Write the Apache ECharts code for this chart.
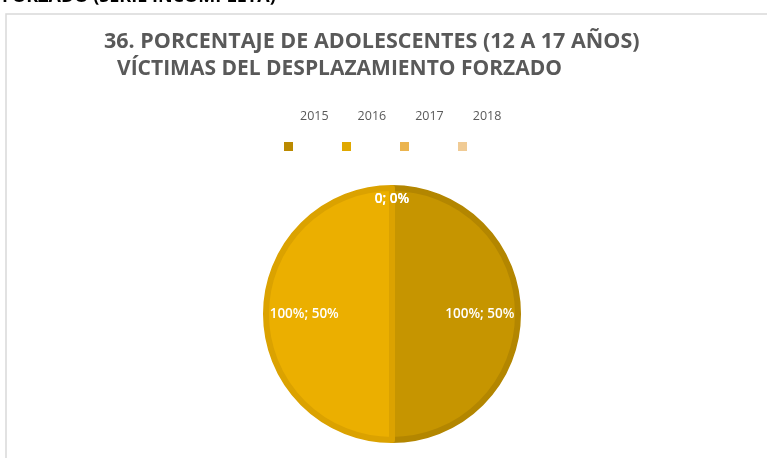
<!DOCTYPE html>
<html>
<head>
<meta charset="utf-8">
<script src="https://cdn.jsdelivr.net/npm/echarts@6/dist/echarts.min.js"></script>
<style>
  html, body { margin: 0; padding: 0; background: #fff; }
  #viewData { width: 767px; height: 458px; }
</style>
</head>
<body>
<div id="viewData"></div>
<script>
// datos del gráfico
var years = ["2015", "2016", "2017", "2018"];
var valores = [100, 100, 0, 0]; // porcentaje de víctimas
var colores = ["#C69500", "#EBAF00", "#EBB44F", "#F0CB95"];
var bordes = ["#B38600", "#DBA200", "#DDA040", "#E0B880"];
var leyenda = ["#BB8A00", "#E0A800", "#EBB44F", "#F0CB95"];

var myChart = echarts.init(document.getElementById("viewData"));

var option = {
  animation: false,
  graphic: [
    {
      type: "rect",
      shape: { x: 6, y: 14, width: 800, height: 500 },
      style: { fill: "#fff", stroke: "#D9D9D9", lineWidth: 1.5 },
      z: -10
    },
    {
      type: "text",
      left: 2, top: -12,
      style: { text: "FORZADO (SERIE INCOMPLETA)", font: "bold 18px 'Open Sans'", fill: "#000" }
    },
    {
      type: "text",
      left: 104, top: 31,
      style: { text: "36. PORCENTAJE DE ADOLESCENTES (12 A 17 AÑOS)", font: "bold 21.5px 'Open Sans'", fill: "#595959" }
    },
    {
      type: "text",
      left: 117, top: 59,
      style: { text: "VÍCTIMAS DEL DESPLAZAMIENTO FORZADO", font: "bold 21px 'Open Sans'", fill: "#595959" }
    }
  ],
  legend: [
    {
      // cuadritos
      left: 279, top: 137,
      itemWidth: 9, itemHeight: 9,
      itemGap: 49,
      icon: "rect",
      data: years.map(function (y, i) {
        return { name: y, itemStyle: { color: leyenda[i], borderWidth: 0 } };
      }),
      formatter: function () { return ""; },
      selectedMode: false
    },
    {
      // textos de años
      left: 290, top: 105,
      itemWidth: 0, itemHeight: 0,
      itemGap: 24,
      icon: "none",
      data: years,
      textStyle: { fontFamily: "Open Sans", fontSize: 12.5, color: "#595959", padding: 0 },
      selectedMode: false
    }
  ],
  series: [
    {
      type: "pie",
      center: [392, 314],
      radius: 126,
      startAngle: 90,
      clockwise: true,
      avoidLabelOverlap: false,
      label: {
        show: true,
        position: "inside",
        color: "#fff",
        fontFamily: "Open Sans",
        fontWeight: 600,
        fontSize: 13.5,
        formatter: function (p) {
          var v = p.value === 0 ? "0" : p.value + "%";
          return v + "; " + Math.round(p.percent) + "%";
        }
      },
      labelLayout: function (p) {
        var cx = p.labelRect.x + p.labelRect.width / 2 - 392;
        var cy = p.labelRect.y + p.labelRect.height / 2 - 314;
        var k = valores[p.dataIndex] === 0 ? 0.74 : 0.33;
        return { dx: cx * k, dy: cy * k };
      },
      data: years.map(function (y, i) {
        return {
          name: y,
          value: valores[i],
          itemStyle: {
            color: colores[i],
            borderColor: bordes[i],
            borderWidth: valores[i] === 0 ? 0 : 6
          }
        };
      })
    }
  ]
};

myChart.setOption(option);
</script>
</body>
</html>
